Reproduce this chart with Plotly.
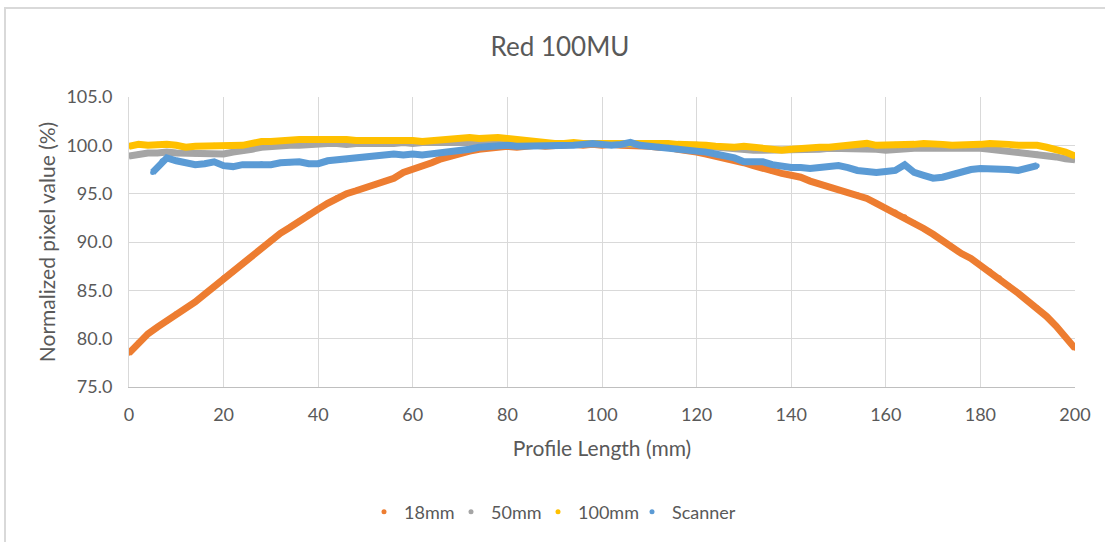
import plotly.graph_objects as go

# ---------------- data ----------------
x_full = list(range(0, 201, 2))

y_18mm = [78.5, 79.6, 80.5, 81.2, 81.8, 82.6, 83.2, 83.8, 84.6, 85.4,
          86.3, 86.9, 87.8, 88.5, 89.3, 90.2, 90.9, 91.5, 92.2, 92.9,
          93.4, 94.0, 94.6, 95.0, 95.3, 95.6, 95.9, 96.3, 96.6, 97.2,
          97.5, 97.8, 98.2, 98.6, 98.9, 99.2, 99.4, 99.6, 99.7, 99.8,
          99.9, 99.8, 99.9, 100.0, 99.9, 100.0, 100.0, 100.1, 100.0, 100.1,
          100.0, 100.1, 100.0, 100.0, 99.9, 99.9, 99.8, 99.8, 99.6, 99.5,
          99.3, 99.1, 98.9, 98.7, 98.4, 98.2, 97.9, 97.6, 97.3, 97.1,
          96.9, 96.7, 96.3, 96.0, 95.7, 95.4, 95.1, 94.9, 94.5, 94.0,
          93.5, 93.1, 92.6, 92.0, 91.4, 90.8, 90.1, 89.4, 88.8, 88.3,
          87.6, 87.0, 86.3, 85.5, 84.7, 83.9, 83.2, 82.3, 81.3, 80.2,
          79.0]

y_50mm = [98.9, 99.1, 99.2, 99.2, 99.3, 99.2, 99.2, 99.1, 99.2, 99.1,
          99.1, 99.3, 99.4, 99.6, 99.8, 99.9, 99.9, 100.0, 100.0, 100.1,
          100.1, 100.2, 100.2, 100.1, 100.2, 100.2, 100.1, 100.2, 100.2, 100.3,
          100.2, 100.3, 100.3, 100.4, 100.4, 100.4, 100.4, 100.3, 100.3, 100.3,
          100.2, 100.2, 100.1, 100.1, 100.1, 100.1, 100.1, 100.1, 100.2, 100.1,
          100.1, 100.2, 100.1, 100.1, 100.1, 100.1, 100.0, 100.0, 100.0, 100.1,
          100.0, 99.9, 99.8, 99.7, 99.6, 99.6, 99.5, 99.5, 99.5, 99.5,
          99.6, 99.6, 99.6, 99.6, 99.7, 99.7, 99.7, 99.6, 99.6, 99.6,
          99.5, 99.6, 99.6, 99.7, 99.7, 99.7, 99.8, 99.8, 99.8, 99.8,
          99.7, 99.6, 99.5, 99.4, 99.3, 99.2, 99.1, 98.9, 98.8, 98.6,
          98.5]

y_100mm = [99.9, 100.1, 100.0, 100.1, 100.1, 100.0, 99.8, 99.9, 99.9, 100.0,
           99.9, 99.9, 100.0, 100.2, 100.4, 100.4, 100.5, 100.5, 100.6, 100.6,
           100.6, 100.6, 100.7, 100.6, 100.5, 100.5, 100.5, 100.5, 100.6, 100.5,
           100.5, 100.4, 100.5, 100.6, 100.7, 100.8, 100.8, 100.7, 100.8, 100.8,
           100.7, 100.6, 100.5, 100.4, 100.2, 100.2, 100.2, 100.3, 100.2, 100.2,
           100.2, 100.2, 100.3, 100.3, 100.3, 100.3, 100.2, 100.2, 100.1, 100.1,
           100.1, 100.0, 99.9, 99.8, 99.8, 99.9, 99.8, 99.7, 99.6, 99.5,
           99.6, 99.7, 99.7, 99.8, 99.8, 99.9, 100.0, 100.1, 100.2, 100.0,
           100.0, 100.1, 100.1, 100.1, 100.2, 100.2, 100.1, 100.0, 100.0, 100.1,
           100.1, 100.2, 100.2, 100.1, 100.0, 100.0, 100.0, 99.8, 99.6, 99.3,
           98.9]

x_scanner = [5, 6, 7, 8] + list(range(10, 193, 2))
y_scanner = [97.2, 97.7, 98.4, 98.7,
             98.4, 98.2, 98.0, 98.1, 98.3, 97.9, 97.8, 98.0, 98.0, 98.1,
             98.0, 98.2, 98.2, 98.3, 98.1, 98.1, 98.4, 98.5, 98.5, 98.7,
             98.8, 98.9, 99.0, 99.1, 99.0, 99.1, 99.0, 99.1, 99.2, 99.3,
             99.4, 99.6, 99.8, 99.9, 100.0, 100.0, 99.9, 99.9, 99.9, 99.9,
             99.9, 100.0, 100.0, 100.1, 100.2, 100.1, 100.0, 100.1, 100.3, 100.0,
             99.9, 99.9, 99.8, 99.7, 99.5, 99.4, 99.3, 99.1, 98.9, 98.7,
             98.3, 98.3, 98.3, 98.0, 97.8, 97.7, 97.7, 97.6, 97.7, 97.8,
             97.9, 97.7, 97.4, 97.3, 97.2, 97.3, 97.4, 98.0, 97.2, 96.9,
             96.6, 96.7, 97.0, 97.3, 97.5, 97.6, 97.6, 97.5, 97.5, 97.4,
             97.6, 97.9]

series_names = ["18mm", "50mm", "100mm", "Scanner"]
series_x = [x_full, x_full, x_full, x_scanner]
series_y = [y_18mm, y_50mm, y_100mm, y_scanner]
series_colors = ["#ED7D31", "#A5A5A5", "#FFC000", "#5B9BD5"]

x_ticks = list(range(0, 201, 20))
y_ticks = [75, 80, 85, 90, 95, 100, 105]

# ---------------- figure ----------------
FONT = "Lato"
TXT = "#595959"

L, R, T, B = 129, 30, 97, 155
W, H = 1105, 542
pw, ph = W - L - R, H - T - B

legend_ids = ["legend", "legend2", "legend3", "legend4"]
legend_marker_px = [389, 476, 563, 657]   # pixel x of each legend dot

fig = go.Figure()
for name, xs, ys, col, lid in zip(series_names, series_x, series_y,
                                  series_colors, legend_ids):
    fig.add_trace(go.Scatter(
        x=xs, y=ys, mode="lines", name=name, legendgroup=name,
        showlegend=False, hoverinfo="skip",
        line=dict(color=col, width=7, shape="linear"),
    ))
    fig.add_trace(go.Scatter(
        x=xs, y=ys, mode="markers", name=name, legendgroup=name,
        legend=lid, marker=dict(color=col, size=5),
    ))

legend_common = dict(orientation="h", xanchor="left", yanchor="middle",
                     y=(H - B - 512) / ph, font=dict(size=18, color=TXT),
                     bgcolor="rgba(0,0,0,0)", borderwidth=0)
legends = {}
for lid, mpx in zip(legend_ids, legend_marker_px):
    legends[lid] = dict(legend_common, x=(mpx - 25 - L) / pw)

fig.update_layout(
    width=W, height=H,
    margin=dict(l=L, r=R, t=T, b=B),
    paper_bgcolor="white", plot_bgcolor="white",
    font=dict(family=FONT, color=TXT, size=18),
    title=dict(text="Red 100MU", x=(560 / W), xanchor="center",
               y=1 - 47 / H, yanchor="middle", yref="container",
               font=dict(family=FONT, size=26, color=TXT)),
    xaxis=dict(
        range=[0, 200], tickvals=x_ticks, showgrid=True, gridcolor="#D9D9D9",
        gridwidth=1, zeroline=False, showline=True, linecolor="#BFBFBF",
        linewidth=1, ticks="", tickfont=dict(size=18, color=TXT),
        ticklabelstandoff=11,
        title=dict(text="Profile Length (mm)", font=dict(size=21, color=TXT),
                   standoff=17),
        mirror=False,
    ),
    yaxis=dict(
        range=[75, 105], tickvals=y_ticks, tickformat=".1f", showgrid=True,
        gridcolor="#D9D9D9", gridwidth=1, zeroline=False, showline=True,
        linecolor="#D9D9D9", linewidth=1, ticks="",
        tickfont=dict(size=18, color=TXT), ticklabelstandoff=12,
        title=dict(text="Normalized pixel value (%)",
                   font=dict(size=21, color=TXT), standoff=5),
    ),
    showlegend=True,
    shapes=[dict(type="rect", xref="paper", yref="paper",
                 x0=(5 - L) / pw, x1=(W + 10 - L) / pw,
                 y0=(H - B - (H + 10)) / ph, y1=(H - B - 8) / ph,
                 line=dict(color="#D9D9D9", width=2), fillcolor="rgba(0,0,0,0)",
                 layer="below")],
    **legends,
)

fig.write_html("out.html")
